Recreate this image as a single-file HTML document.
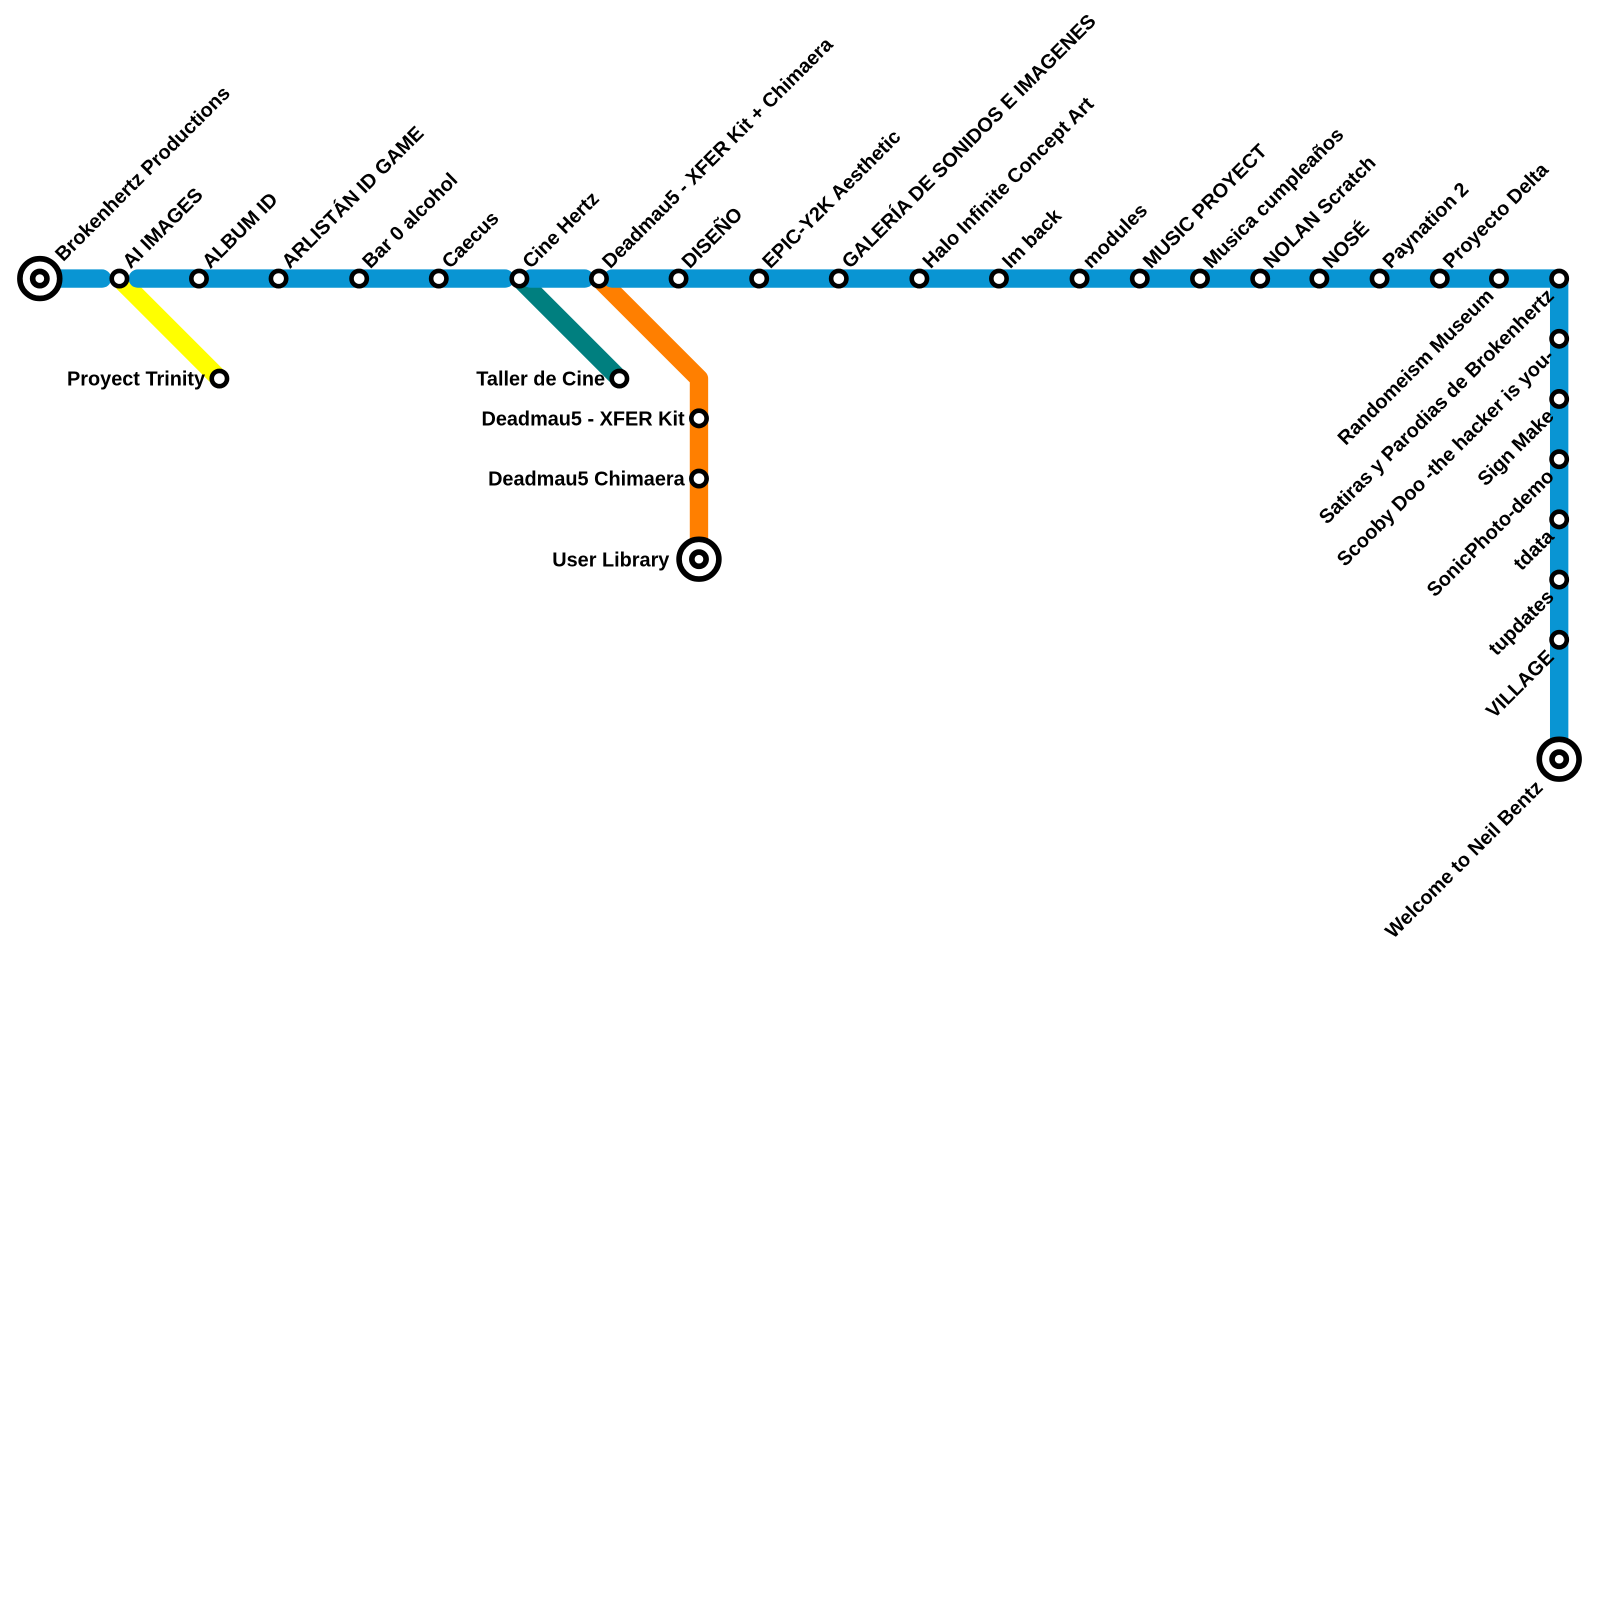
<!DOCTYPE html>
<html><head><meta charset="utf-8"><style>html,body{margin:0;padding:0;background:#fff}svg{display:block}text{font-family:"Liberation Sans",sans-serif;font-weight:bold;font-size:19.5px;fill:#000}</style></head><body>
<svg width="1600" height="1600" xmlns="http://www.w3.org/2000/svg">
<g transform="scale(1.0204)">
<g fill="none" stroke-linecap="round" stroke-linejoin="round" stroke-width="18">
<path d="M117 273L215 371" stroke="#ffff00"/>
<path d="M509 273L607 371" stroke="#007f7f"/>
<path d="M587 273L685 371L685 535" stroke="#ff7f00"/>
<path d="M39 273H100M135 273H495M520 273H573M600 273H1528V735" stroke="#0995d3"/>
</g>
<g fill="#fff" stroke="#000" stroke-width="5.5">
<circle cx="39" cy="273" r="19.5"/><circle cx="39" cy="273" r="7"/>
<circle cx="685" cy="548" r="19.5"/><circle cx="685" cy="548" r="7"/>
<circle cx="1528" cy="744" r="19.5"/><circle cx="1528" cy="744" r="7"/>
</g>
<g fill="#fff" stroke="#000" stroke-width="4.5">
<circle cx="117" cy="273" r="7.5"/><circle cx="195" cy="273" r="7.5"/><circle cx="273" cy="273" r="7.5"/><circle cx="352" cy="273" r="7.5"/><circle cx="430" cy="273" r="7.5"/><circle cx="509" cy="273" r="7.5"/><circle cx="587" cy="273" r="7.5"/><circle cx="665" cy="273" r="7.5"/><circle cx="744" cy="273" r="7.5"/><circle cx="822" cy="273" r="7.5"/><circle cx="901" cy="273" r="7.5"/><circle cx="979" cy="273" r="7.5"/><circle cx="1058" cy="273" r="7.5"/><circle cx="1117" cy="273" r="7.5"/><circle cx="1176" cy="273" r="7.5"/><circle cx="1235" cy="273" r="7.5"/><circle cx="1293" cy="273" r="7.5"/><circle cx="1352" cy="273" r="7.5"/><circle cx="1411" cy="273" r="7.5"/><circle cx="1469" cy="273" r="7.5"/><circle cx="1528" cy="273" r="7.5"/>
<circle cx="1528" cy="332" r="7.5"/><circle cx="1528" cy="391" r="7.5"/><circle cx="1528" cy="450" r="7.5"/><circle cx="1528" cy="509" r="7.5"/><circle cx="1528" cy="568" r="7.5"/><circle cx="1528" cy="627" r="7.5"/>
<circle cx="215" cy="371" r="7.5"/><circle cx="607" cy="371" r="7.5"/><circle cx="685" cy="410" r="7.5"/><circle cx="685" cy="469" r="7.5"/>
</g>
<g>
<text transform="translate(62,257) rotate(-45)">Brokenhertz Productions</text>
<text transform="translate(128,264) rotate(-45)">AI IMAGES</text>
<text transform="translate(206,264) rotate(-45)">ALBUM ID</text>
<text transform="translate(284,264) rotate(-45)">ARLISTÁN ID GAME</text>
<text transform="translate(363,264) rotate(-45)">Bar 0 alcohol</text>
<text transform="translate(441,264) rotate(-45)">Caecus</text>
<text transform="translate(520,264) rotate(-45)">Cine Hertz</text>
<text transform="translate(598,264) rotate(-45)">Deadmau5 - XFER Kit + Chimaera</text>
<text transform="translate(676,264) rotate(-45)">DISEÑO</text>
<text transform="translate(755,264) rotate(-45)">EPIC-Y2K Aesthetic</text>
<text transform="translate(833,264) rotate(-45)">GALERÍA DE SONIDOS E IMAGENES</text>
<text transform="translate(912,264) rotate(-45)">Halo Infinite Concept Art</text>
<text transform="translate(990,264) rotate(-45)">Im back</text>
<text transform="translate(1069,264) rotate(-45)">modules</text>
<text transform="translate(1128,264) rotate(-45)">MUSIC PROYECT</text>
<text transform="translate(1187,264) rotate(-45)">Musica cumpleaños</text>
<text transform="translate(1246,264) rotate(-45)">NOLAN Scratch</text>
<text transform="translate(1304,264) rotate(-45)">NOSÉ</text>
<text transform="translate(1363,264) rotate(-45)">Paynation 2</text>
<text transform="translate(1422,264) rotate(-45)">Proyecto Delta</text>
<g text-anchor="end">
<text transform="translate(1465,291) rotate(-45)">Randomeism Museum</text>
<text transform="translate(1524,291) rotate(-45)">Satiras y Parodias de Brokenhertz</text>
<text transform="translate(1524,350) rotate(-45)">Scooby Doo -the hacker is you-</text>
<text transform="translate(1524,409) rotate(-45)">Sign Make</text>
<text transform="translate(1524,468) rotate(-45)">SonicPhoto-demo</text>
<text transform="translate(1524,527) rotate(-45)">tdata</text>
<text transform="translate(1524,586) rotate(-45)">tupdates</text>
<text transform="translate(1524,645) rotate(-45)">VILLAGE</text>
<text transform="translate(1513,773) rotate(-45)">Welcome to Neil Bentz</text>
<text x="201" y="378">Proyect Trinity</text>
<text x="593" y="378">Taller de Cine</text>
<text x="671" y="417">Deadmau5 - XFER Kit</text>
<text x="671" y="476">Deadmau5 Chimaera</text>
<text x="656" y="555">User Library</text>
</g>
</g>
</g>
</svg>
</body></html>
